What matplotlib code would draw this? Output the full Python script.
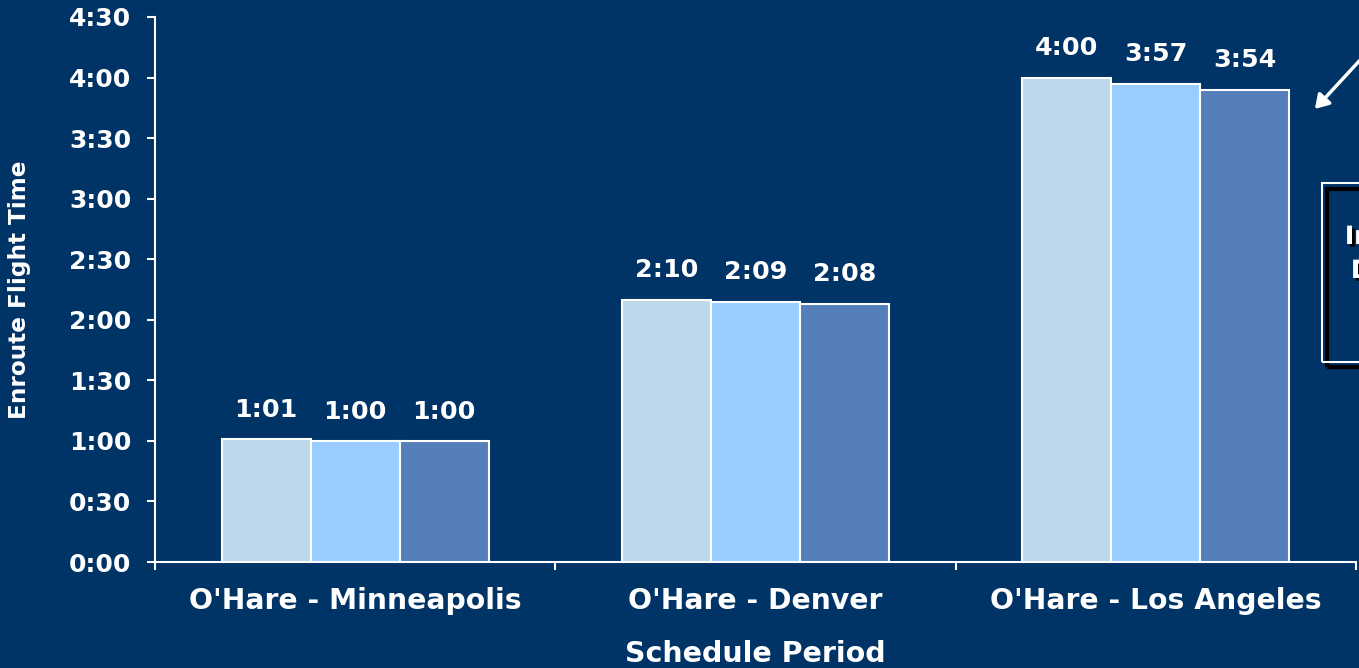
import numpy as np
import matplotlib.pyplot as plt
import matplotlib.patheffects as pe
from matplotlib.patches import Rectangle, FancyArrowPatch

# =============================
# DATA (minutes)
# =============================
routes = ["O'Hare - Minneapolis", "O'Hare - Denver", "O'Hare - Los Angeles"]
period_1 = [61, 130, 240]
period_2 = [60, 129, 237]
period_3 = [60, 128, 234]
bar_colors = ["#BDD8EA", "#99CCFF", "#557FBA"]
y_ticks = [0, 30, 60, 90, 120, 150, 180, 210, 240, 270]

bg = "#003366"


def hmm(minutes):
    return f"{int(minutes) // 60}:{int(minutes) % 60:02d}"


plt.rcParams["font.family"] = ["DejaVu Sans"]
plt.rcParams["font.weight"] = "bold"

fig = plt.figure(figsize=(13.59, 6.68), dpi=100, facecolor=bg)
ax = fig.add_axes([155 / 1359, 1 - 562 / 668, 1201 / 1359, 545 / 668])
ax.set_facecolor(bg)

x = np.arange(len(routes))
w = 0.2225
for i, vals in enumerate([period_1, period_2, period_3]):
    pos = x + (i - 1) * w
    ax.bar(pos, vals, width=w, color=bar_colors[i], edgecolor="white",
           linewidth=1.5, zorder=3)
    for px, v in zip(pos, vals):
        ax.annotate(hmm(v), (px, v), xytext=(0, 16), textcoords="offset points",
                    ha="center", va="baseline", color="white",
                    fontsize=18.3, fontweight="bold")

ax.set_xlim(-0.5, 2.5)
ax.set_ylim(0, 270)
ax.set_yticks(y_ticks)
ax.set_yticklabels([hmm(t) for t in y_ticks])
ax.set_xticks(x)
ax.set_xticklabels(routes)
ax.set_xticks([-0.5, 0.5, 1.5, 2.5], minor=True)

for s in ["top", "right"]:
    ax.spines[s].set_visible(False)
for s in ["left", "bottom"]:
    ax.spines[s].set_color("white")
    ax.spines[s].set_linewidth(1.5)

ax.tick_params(axis="y", colors="white", labelsize=18, length=6, width=1.5, pad=11)
ax.tick_params(axis="x", which="major", colors="white", labelsize=20.3, length=0, pad=18)
ax.tick_params(axis="x", which="minor", colors="white", length=6, width=1.5)

ax.set_ylabel("Enroute Flight Time", color="white", fontsize=16.7,
              fontweight="bold")
ax.set_xlabel("Schedule Period", color="white", fontsize=20.5,
              fontweight="bold", labelpad=18)
ax.yaxis.set_label_coords(-0.103, 0.5)

# callout box + arrow on the right edge
W, H = 1359, 668
fig.patches.append(Rectangle((1327 / W, 1 - 367 / H), 60 / W, 178 / H,
                             transform=fig.transFigure, fill=False,
                             edgecolor="black", linewidth=3))
fig.patches.append(Rectangle((1322 / W, 1 - 362 / H), 60 / W, 179 / H,
                             transform=fig.transFigure, fill=False,
                             edgecolor="white", linewidth=1.5))
shadow = [pe.withSimplePatchShadow(offset=(2, -2), shadow_rgbFace="black", alpha=1),
          pe.Normal()]
fig.text(1345 / W, 1 - 237 / H, "Impact", color="white", fontsize=18,
         fontweight="bold", va="center", ha="left", path_effects=shadow)
fig.text(1351 / W, 1 - 271 / H, "Delay", color="white", fontsize=18,
         fontweight="bold", va="center", ha="left", path_effects=shadow)
fig.patches.append(FancyArrowPatch((1362 / W, 1 - 58 / H), (1313 / W, 1 - 111 / H),
                                   transform=fig.transFigure, color="white",
                                   arrowstyle="-|>,head_length=8,head_width=5",
                                   linewidth=2.5))

fig.savefig("out.png", dpi=100, facecolor=bg)
